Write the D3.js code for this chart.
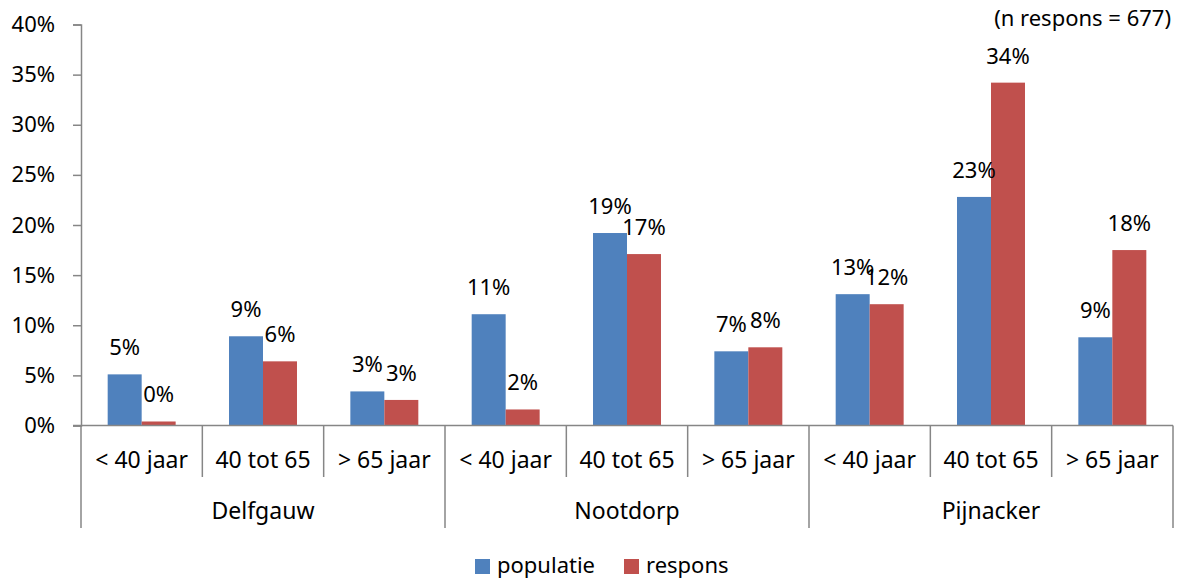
<!DOCTYPE html>
<html>
<head>
<meta charset="utf-8">
<script src="https://cdn.jsdelivr.net/npm/d3@7"></script>
<style>
    body { margin: 0; background: #fff; }
    text { font-family: "Noto Sans", sans-serif; fill: #000; }
</style>
</head>
<body>
<div class="chartframe"></div>
<script>
//wrap everything in a self-executing anonymous function
(function(){

    //data (percentages)
    var groups = ["Delfgauw", "Nootdorp", "Pijnacker"];
    var ages = ["< 40 jaar", "40 tot 65", "> 65 jaar"];
    var seriesNames = ["populatie", "respons"];
    var populatie = [5.1, 8.9, 3.4, 11.1, 19.2, 7.4, 13.1, 22.8, 8.8];
    var respons = [0.4, 6.4, 2.55, 1.6, 17.1, 7.8, 12.1, 34.2, 17.5];
    var yTicks = [0, 5, 10, 15, 20, 25, 30, 35, 40];
    var colors = ["#4F81BD", "#C0504D"];
    var note = "(n respons = 677)";

    //chart frame dimensions
    var width = 1181,
        height = 583,
        left = 81,
        right = 1173,
        top = 24.5,
        bottom = 425.5,
        axisColor = "#868686";

    var svg = d3.select(".chartframe")
        .append("svg")
        .attr("width", width)
        .attr("height", height);

    //one slot per group/age combination
    var slots = [];
    groups.forEach(function(g, gi){
        ages.forEach(function(a, ai){
            slots.push({group: g, age: a, i: gi * ages.length + ai});
        });
    });

    var x = d3.scaleBand()
        .domain(slots.map(function(d){ return d.i; }))
        .range([left, right])
        .padding(0);

    //bars take ~56% of a slot
    var xSub = d3.scaleBand()
        .domain(seriesNames)
        .range([0, x.bandwidth()])
        .paddingInner(0)
        .paddingOuter(0.785);

    var y = d3.scaleLinear()
        .domain([0, 40])
        .range([bottom, top]);

    //y axis
    var yAxis = d3.axisLeft(y)
        .tickValues(yTicks)
        .tickSize(8)
        .tickPadding(18)
        .tickFormat(function(d){ return d + "%"; });

    var gy = svg.append("g")
        .attr("transform", "translate(" + left + ",0)")
        .call(yAxis);
    gy.select(".domain").attr("stroke", axisColor).attr("stroke-width", 1.5);
    gy.selectAll(".tick line").attr("stroke", axisColor).attr("stroke-width", 1.5);
    gy.selectAll(".tick text")
        .style("font-size", "22px")
        .attr("fill", "#000");

    //bars
    var table = slots.map(function(s){
        return [
            {slot: s.i, key: "populatie", value: populatie[s.i]},
            {slot: s.i, key: "respons", value: respons[s.i]}
        ];
    });

    var slotG = svg.selectAll(".slot")
        .data(table)
        .enter()
        .append("g")
        .attr("class", "slot")
        .attr("transform", function(d, i){ return "translate(" + x(i) + ",0)"; });

    slotG.selectAll("rect")
        .data(function(d){ return d; })
        .enter()
        .append("rect")
        .attr("x", function(d){ return xSub(d.key); })
        .attr("y", function(d){ return y(d.value); })
        .attr("width", xSub.bandwidth())
        .attr("height", function(d){ return y(0) - y(d.value); })
        .attr("fill", function(d, i){ return colors[i]; });

    //data labels above bars
    slotG.selectAll(".lbl")
        .data(function(d){ return d; })
        .enter()
        .append("text")
        .attr("class", "lbl")
        .attr("x", function(d){ return xSub(d.key) + xSub.bandwidth() / 2; })
        .attr("y", function(d){ return y(d.value) - 19; })
        .attr("text-anchor", "middle")
        .style("font-size", "22px")
        .text(function(d){ return Math.round(d.value) + "%"; });

    //category axis line
    svg.append("line")
        .attr("x1", left - 8).attr("x2", right)
        .attr("y1", bottom).attr("y2", bottom)
        .attr("stroke", axisColor).attr("stroke-width", 1.5);

    //separators: short within groups, long between groups
    d3.range(slots.length + 1).forEach(function(i){
        var xx = i < slots.length ? x(i) : right;
        var long = (i % ages.length === 0);
        svg.append("line")
            .attr("x1", xx).attr("x2", xx)
            .attr("y1", bottom).attr("y2", long ? 528 : 477)
            .attr("stroke", axisColor).attr("stroke-width", 1.5);
    });

    //age labels
    svg.selectAll(".age")
        .data(slots)
        .enter()
        .append("text")
        .attr("class", "age")
        .attr("x", function(d){ return x(d.i) + x.bandwidth() / 2; })
        .attr("y", 468)
        .attr("text-anchor", "middle")
        .style("font-size", "23px")
        .text(function(d){ return d.age; });

    //group labels
    svg.selectAll(".grp")
        .data(groups)
        .enter()
        .append("text")
        .attr("class", "grp")
        .attr("x", function(d, gi){ return x(gi * ages.length) + x.bandwidth() * ages.length / 2; })
        .attr("y", 519)
        .attr("text-anchor", "middle")
        .style("font-size", "23px")
        .text(function(d){ return d; });

    //legend
    var legendX = [475, 624];
    var legend = svg.selectAll(".legend")
        .data(seriesNames)
        .enter()
        .append("g")
        .attr("class", "legend")
        .attr("transform", function(d, i){ return "translate(" + legendX[i] + ",559)"; });
    legend.append("rect")
        .attr("width", 15).attr("height", 15)
        .attr("fill", function(d, i){ return colors[i]; });
    legend.append("text")
        .attr("x", 22)
        .attr("y", 13.5)
        .style("font-size", "22px")
        .text(function(d){ return d; });

    //sample size note
    svg.append("text")
        .attr("x", 1171)
        .attr("y", 26)
        .attr("text-anchor", "end")
        .style("font-size", "22px")
        .text(note);

})();
</script>
</body>
</html>
